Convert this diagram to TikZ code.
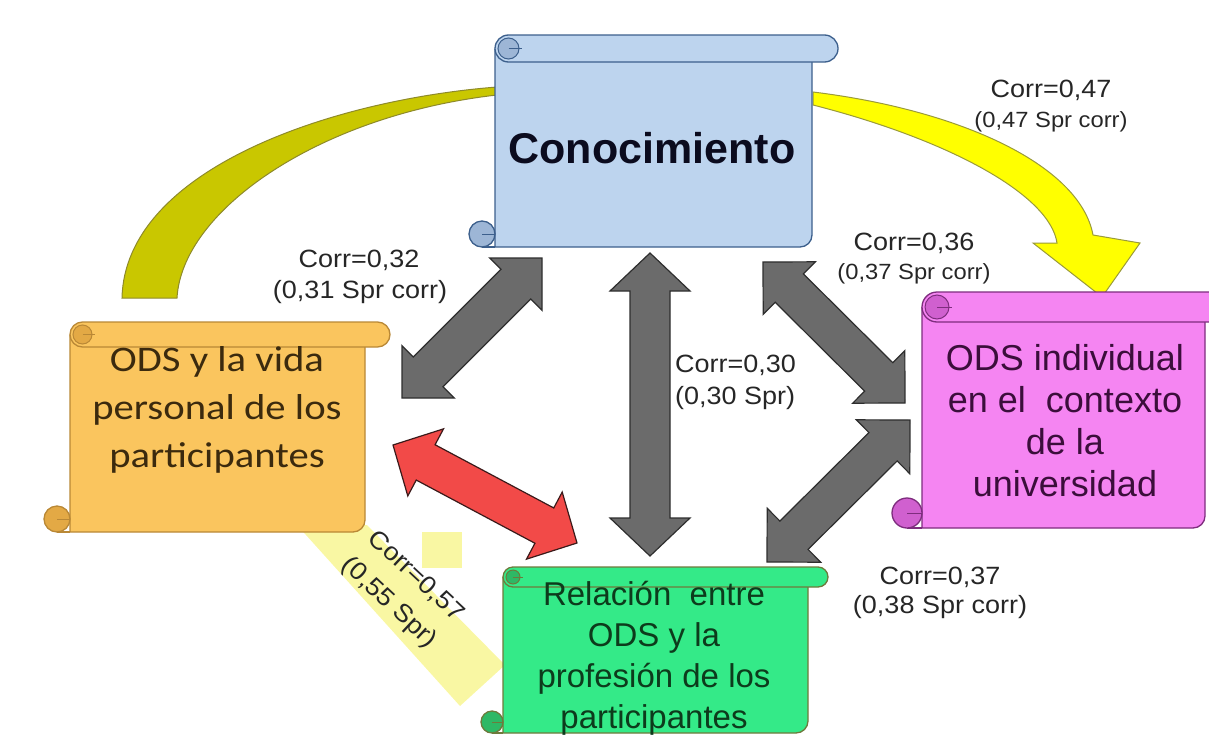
\documentclass[tikz,border=0pt]{standalone}
\usepackage{fontspec}
\setmainfont{Liberation Sans}
\newfontfamily\arialf{Liberation Sans}
\newfontfamily\labf[FakeStretch=1.08]{Liberation Sans}
\newfontfamily\calf[FakeStretch=1.13]{Carlito}
\usetikzlibrary{calc}

\definecolor{bluefill}{HTML}{BDD4EE}
\definecolor{blueline}{HTML}{3C5F8C}
\definecolor{bluecurl}{HTML}{9DB6D6}
\definecolor{orfill}{HTML}{FAC55E}
\definecolor{orline}{HTML}{B98836}
\definecolor{orcurl}{HTML}{E3A945}
\definecolor{pkfill}{HTML}{F585F2}
\definecolor{pkline}{HTML}{7E2D7E}
\definecolor{pkcurl}{HTML}{D060CF}
\definecolor{grfill}{HTML}{34EA88}
\definecolor{grline}{HTML}{6E7A3C}
\definecolor{grcurl}{HTML}{2EB865}
\definecolor{conoctext}{HTML}{0B0B1E}
\definecolor{vidatext}{HTML}{3B2A0E}
\definecolor{indivtext}{HTML}{3B0E3B}
\definecolor{reltext}{HTML}{0D3B1C}
\definecolor{labcol}{HTML}{262626}
\definecolor{grayfill}{HTML}{6B6B6B}
\definecolor{grayline}{HTML}{2E2E2E}
\definecolor{redfill}{HTML}{F24A48}
\definecolor{redline}{HTML}{3A1A1A}
\definecolor{olivefill}{HTML}{C9C700}
\definecolor{oliveline}{HTML}{8E8A2A}
\definecolor{yelfill}{HTML}{FFFF00}
\definecolor{yelline}{HTML}{9A9A3A}
\definecolor{palefill}{HTML}{F9F7A3}

\tikzset{
  lab/.style={font=\labf\fontsize{25}{30}\selectfont, text=labcol, inner sep=0pt, anchor=base},
  labsmall/.style={lab, font=\labf\fontsize{22}{26}\selectfont},
  graybi/.style={fill=grayfill, draw=grayline, line width=1.2pt},
  redbi/.style={fill=redfill, draw=redline, line width=1.2pt},
  olivearrow/.style={fill=olivefill, draw=oliveline, line width=1pt},
  yelarrow/.style={fill=yelfill, draw=yelline, line width=1pt},
  paleband/.style={fill=palefill, draw=none},
}

% #1 L, #2 T, #3 R (roll), #4 B, #5 roll height, #6 body right, #7 curl radius, #8 colour prefix
\newcommand\scrollbox[8]{%
  \pgfmathsetmacro\sbr{#5/2}%
  \draw[fill=#8fill, draw=#8line, line width=1.3pt] (#1,{#2+#5/2}) -- (#1,#4) -- ({#6-12},#4) arc[start angle=90,end angle=0,radius=12] -- (#6,{#2+#5/2});
  \draw[draw=#8line, line width=1.3pt] ({#1-#7},#4) -- (#1,#4);
  \draw[fill=#8curl, draw=#8line, line width=1.3pt] ({#1-#7},{#4-#7}) circle[radius=#7];
  \draw[draw=#8line, line width=1pt] ({#1-#7},{#4-#7}) -- (#1,{#4-#7});
  \draw[fill=#8fill, draw=#8line, line width=1.3pt, rounded corners=\sbr pt] (#1,#2) rectangle (#3,{#2+#5});
  \draw[fill=#8curl, draw=#8line, line width=1pt] ({#1+\sbr},{#2+\sbr}) circle[radius={\sbr-3}];
  \draw[draw=#8line, line width=1pt] ({#1+\sbr},{#2+\sbr}) -- ({#1+2*\sbr},{#2+\sbr});
}

% #1 style, #2 tip A, #3 tip B, #4 shaft half width, #5 head half width, #6 head length
\newcommand\twoway[6]{%
  \coordinate (twA) at ($(#2)!#6!(#3)$);
  \coordinate (twB) at ($(#3)!#6!(#2)$);
  \draw[#1] (#2) -- ($(twA)!#5!90:(#3)$) -- ($(twA)!#4!90:(#3)$)
    -- ($(twB)!#4!-90:(#2)$) -- ($(twB)!#5!-90:(#2)$) -- (#3)
    -- ($(twB)!#5!90:(#2)$) -- ($(twB)!#4!90:(#2)$)
    -- ($(twA)!#4!-90:(#3)$) -- ($(twA)!#5!-90:(#3)$) -- cycle;
}

\begin{document}
\begin{tikzpicture}[x=1pt,y=-1pt]
\useasboundingbox (0,0) rectangle (1209,744);
\clip (0,0) rectangle (1209,744);

% faded yellow band (behind)
\fill[paleband] (297,525) -- (367,525) -- (505,665) -- (460,706) -- cycle;
\fill[paleband] (422,532) rectangle (462,568);

% curved arrow Conocimiento -> ODS vida (olive)
\coordinate (o1) at (497,87);
\coordinate (o2) at (497,95);
\coordinate (o3) at (177,298);
\coordinate (o4) at (122,298);
\draw[olivearrow] (o1) .. controls (330,100) and (125,170) .. (o4) -- (o3)
  .. controls (182,210) and (320,115) .. (o2) -- cycle;

% curved arrow Conocimiento -> ODS individual (yellow)
\coordinate (y1) at (813,92);
\coordinate (y2) at (813,105);
\coordinate (ytip) at (1102,297);
\draw[yelarrow] (y1) .. controls (960,110) and (1080,165) .. (1093,235)
  -- (1140,243) -- (ytip) -- (1033,243) -- (1057,243)
  .. controls (1050,195) and (950,140) .. (y2) -- cycle;

% scrolls
\scrollbox{495}{35}{838}{247}{27}{812}{13}{blue}
\scrollbox{70}{322}{390}{532}{25}{365}{13}{or}
\scrollbox{922}{292}{1225}{528}{30}{1205}{15}{pk}
\scrollbox{503}{567}{828}{733}{20}{808}{11}{gr}

% box texts
\node[font=\arialf\bfseries\fontsize{43}{50}\selectfont, text=conoctext, anchor=base, inner sep=0pt] (conoc) at (652,163) {Conocimiento};
\node[font=\calf\fontsize{36}{48}\selectfont, text=vidatext, align=center, inner sep=0pt] (vida) at (217,410) {ODS y la vida\\personal de los\\participantes};
\node[font=\arialf\fontsize{36}{42}\selectfont, text=indivtext, align=center, inner sep=0pt] (indiv) at (1065,421) {ODS individual\\en el\ \ contexto\\de la\\universidad};
\node[font=\arialf\fontsize{33}{41}\selectfont, text=reltext, align=center, inner sep=0pt] (rel) at (654,658) {Relaci\'on\ \ entre\\ODS y la\\profesi\'on de los\\participantes};

% double arrows
\coordinate (gA1) at (542,258); \coordinate (gA2) at (402,398);
\coordinate (gB1) at (650,253); \coordinate (gB2) at (650,556);
\coordinate (gC1) at (763,262); \coordinate (gC2) at (905,403);
\coordinate (gD1) at (910,420); \coordinate (gD2) at (767,562);
\coordinate (rE1) at (393,445); \coordinate (rE2) at (577,543);
\twoway{graybi}{gA1}{gA2}{21pt}{37pt}{37pt}
\twoway{graybi}{gB1}{gB2}{20pt}{40pt}{38pt}
\twoway{graybi}{gC1}{gC2}{20pt}{37pt}{37pt}
\twoway{graybi}{gD1}{gD2}{20pt}{38pt}{38pt}
\twoway{redbi}{rE1}{rE2}{20pt}{38pt}{37pt}

% labels
\node[lab] (l47a) at (1051,97) {Corr=0,47};
\node[labsmall] (l47b) at (1051,127) {(0,47 Spr corr)};
\node[lab] (l32a) at (359,267) {Corr=0,32};
\node[lab] (l32b) at (360,298) {(0,31 Spr corr)};
\node[lab] (l36a) at (914,250) {Corr=0,36};
\node[labsmall] (l36b) at (914,279) {(0,37 Spr corr)};
\node[lab, anchor=base west] (l30a) at (675,372) {Corr=0,30};
\node[lab, anchor=base west] (l30b) at (675,404) {(0,30 Spr)};
\node[lab] (l37a) at (940,584) {Corr=0,37};
\node[lab] (l37b) at (940,613) {(0,38 Spr corr)};
\node[lab, anchor=center, rotate=-43] (l57a) at (416,576) {Corr=0,57};
\node[lab, anchor=center, rotate=-43] (l57b) at (389,603) {(0,55 Spr)};
\end{tikzpicture}
\end{document}
